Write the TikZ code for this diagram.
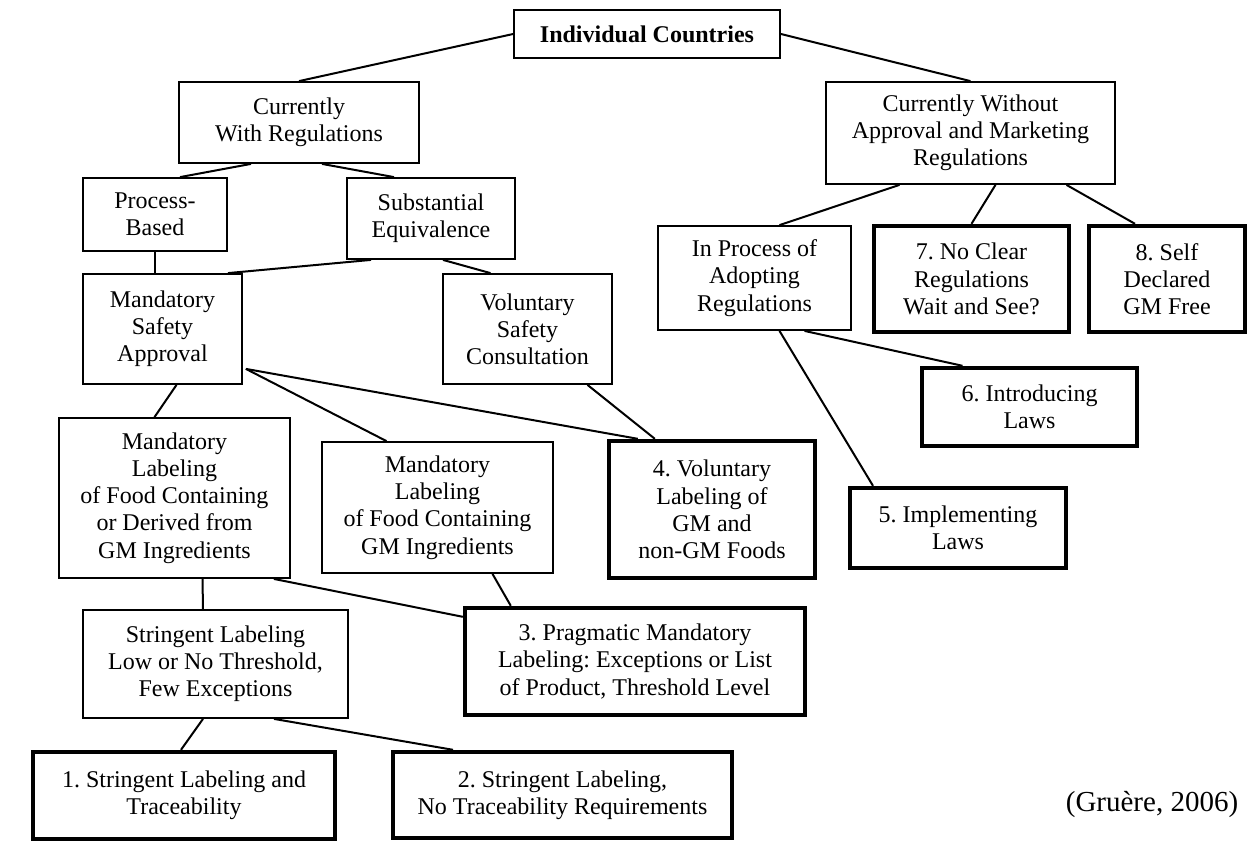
\documentclass[tikz,border=0pt]{standalone}
\usepackage{fontspec}
\setmainfont{Liberation Serif}
\usetikzlibrary{calc}
\frenchspacing
\begin{document}
\begin{tikzpicture}[x=0.5pt,y=-0.5pt,
  box/.style={draw, line width=0.9pt, align=center, inner sep=0pt, font=\fontsize{12}{13.6}\selectfont\frenchspacing},
  heavy/.style={box, line width=2.2pt},
  sz/.style 2 args={minimum width=#1*0.5pt, minimum height=#2*0.5pt},
  link/.style={line width=1pt}]
\useasboundingbox (0,0) rectangle (1255,848);
% nodes
\node[box, sz={266}{48}] (ic) at (647,34) {\textbf{Individual Countries}};
\node[box, sz={240}{81}] (cwr) at (299,122.5) {Currently\\With Regulations};
\node[box, sz={289}{102}] (cwo) at (970.5,133) {Currently Without\\Approval and Marketing\\Regulations};
\node[box, sz={144}{73}] (pb) at (155,214.5) {Process-\\Based};
\node[box, sz={168}{81}] (se) at (431,218.5) {Substantial\\Equivalence};
\node[box, sz={159}{110}] (msa) at (162.5,329) {Mandatory\\Safety\\Approval};
\node[box, sz={169}{110}] (vsc) at (527.5,329) {Voluntary\\Safety\\Consultation};
\node[box, sz={193}{104}] (ipa) at (754.5,278) {In Process of\\Adopting\\Regulations};
\node[heavy, sz={195}{106}] (n7) at (971.5,279) {7. No Clear\\Regulations\\Wait and See?};
\node[heavy, sz={156}{106}] (n8) at (1167,279) {8. Self\\Declared\\GM Free};
\node[heavy, sz={215}{78}] (n6) at (1029.5,407) {6. Introducing\\Laws};
\node[heavy, sz={216}{80}] (n5) at (958,528) {5. Implementing\\Laws};
\node[box, sz={231}{160}] (mld) at (174.5,498) {Mandatory\\Labeling\\of Food Containing\\or Derived from\\GM Ingredients};
\node[box, sz={231}{131}] (mlg) at (437.5,507.5) {Mandatory\\Labeling\\of Food Containing\\GM Ingredients};
\node[heavy, sz={206}{137}] (n4) at (712,509.5) {4. Voluntary\\Labeling of\\GM and\\non-GM Foods};
\node[heavy, sz={340}{107}] (n3) at (635,661.5) {3. Pragmatic Mandatory\\Labeling: Exceptions or List\\of Product, Threshold Level};
\node[box, sz={265}{108}] (sl) at (215.5,664) {Stringent Labeling\\Low or No Threshold,\\Few Exceptions};
\node[heavy, sz={302}{87}] (n1) at (184,795.5) {1. Stringent Labeling and\\Traceability};
\node[heavy, sz={339}{86}] (n2) at (562.5,795) {2. Stringent Labeling,\\No Traceability Requirements};
\node[font=\fontsize{14.5}{16}\selectfont, inner sep=0pt] (cite) at (1152,804) {(Gruère, 2006)};
% connectors
\draw[link] (ic.west) -- (cwr.north);
\draw[link] (ic.east) -- (cwo.north);
\draw[link] ($(cwr.south)+(-48,0)$) -- ($(pb.north)+(25,0)$);
\draw[link] ($(cwr.south)+(23,0)$) -- ($(se.north)+(-37,0)$);
\draw[link] (pb.south) -- (pb.south |- msa.north);
\draw[link] ($(se.south)+(-60,0)$) -- ($(msa.north east)+(-15,0)$);
\draw[link] ($(se.south)+(12,0)$) -- ($(vsc.north)+(-37,0)$);
\draw[link] ($(cwo.south)+(-71,0)$) -- ($(ipa.north)+(25,0)$);
\draw[link] ($(cwo.south)+(25,0)$) -- (n7.north);
\draw[link] ($(cwo.south)+(96,0)$) -- ($(n8.north)+(-32,0)$);
\draw[link] ($(ipa.south)+(50,0)$) -- ($(n6.north)+(-67,0)$);
\draw[link] ($(ipa.south)+(25,0)$) -- ($(n5.north)+(-85,0)$);
\draw[link] ($(msa.south)+(14,0)$) -- ($(mld.north)+(-20,0)$);
\coordinate (msaR) at ($(msa.south east)+(3,-16)$);
\draw[link] (msaR) -- ($(mlg.north)+(-51,0)$);
\draw[link] (msaR) -- ($(n4.north west)+(31,0)$);
\draw[link] ($(vsc.south)+(60,0)$) -- ($(n4.north west)+(48,0)$);
\draw[link] ($(mlg.south)+(55,0)$) -- ($(n3.north west)+(48,0)$);
\draw[link] ($(mld.south east)+(-17,0)$) -- ($(n3.north west)+(0,11)$);
\draw[link] ($(mld.south)+(28,0)$) -- ($(sl.north)+(-12.5,0)$);
\draw[link] ($(sl.south)+(-12.5,0)$) -- ($(n1.north)+(-3,0)$);
\draw[link] ($(sl.south)+(58.5,0)$) -- ($(n2.north)+(-109.5,0)$);
\end{tikzpicture}
\end{document}
